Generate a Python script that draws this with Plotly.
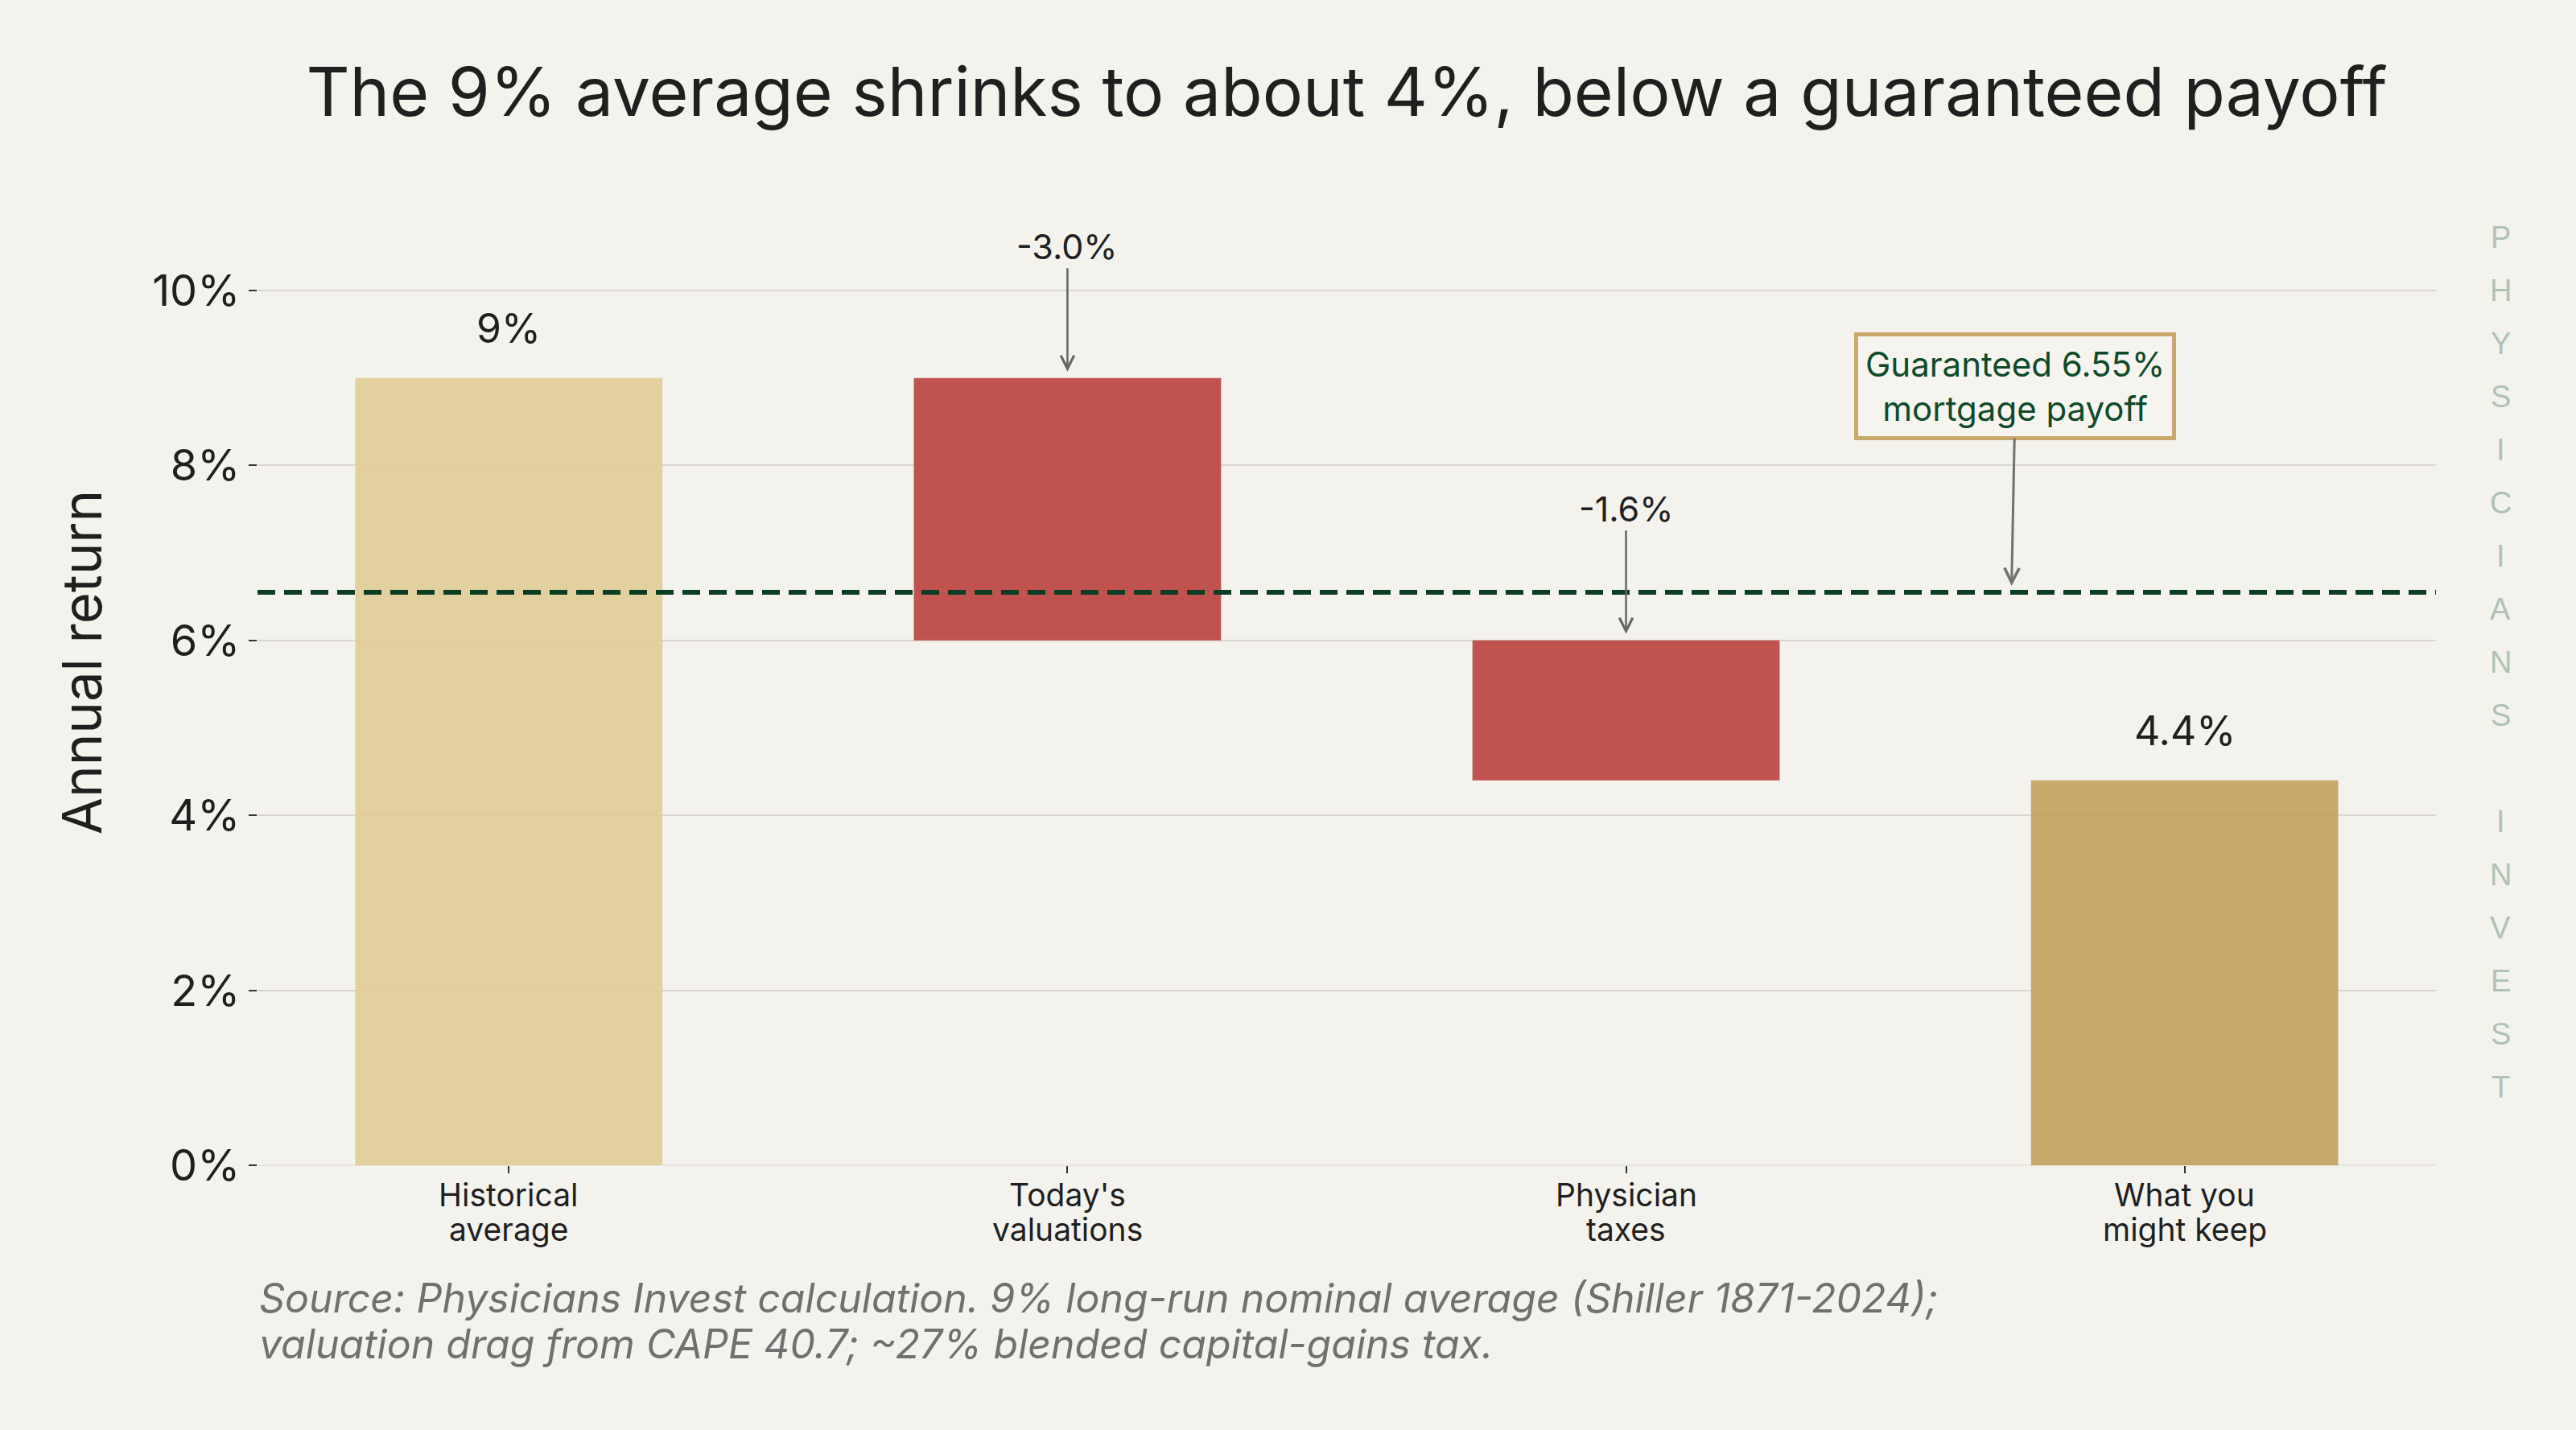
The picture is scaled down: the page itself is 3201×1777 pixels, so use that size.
import plotly.graph_objects as go

# data
categories = ["Historical average", "Today's valuations", "Physician taxes", "What you might keep"]
category_lines = [["Historical", "average"], ["Today's", "valuations"], ["Physician", "taxes"], ["What you", "might keep"]]
historical_avg = 9.0
drags = [-3.0, -1.6]
kept = 4.4
mortgage_rate = 6.55
y_ticks = [0, 2, 4, 6, 8, 10]
y_tick_text = [f"{v}%" for v in y_ticks]
source_lines = [
    "Source: Physicians Invest calculation. 9% long-run nominal average (Shiller 1871-2024);",
    "valuation drag from CAPE 40.7; ~27% blended capital-gains tax.",
]

# bar fills (drawn at 90% opacity so gridlines show through, like the original)
bar_colors = ["rgba(225,204,150,0.9)", "rgba(186,65,61,0.9)", "rgba(186,65,61,0.9)", "rgba(195,160,93,0.9)"]
bg = "#f4f2ed"
font_main = "Inter"

# plot area in pixels, used to place text rows below the axis
plot_top, plot_bottom = 198, 1448
def px_to_paper(py):
    return (plot_bottom - py) / (plot_bottom - plot_top)

# waterfall pieces built from the steps above
heights = [historical_avg] + [abs(d) for d in drags] + [kept]
bases = [0]
level = historical_avg
for d in drags:
    level += d
    bases.append(level)
bases.append(0)

fig = go.Figure()
fig.add_trace(go.Bar(
    x=list(range(len(categories))),
    y=heights,
    base=bases,
    width=0.55,
    marker=dict(color=bar_colors, line=dict(width=0)),
    hoverinfo="skip",
    showlegend=False,
))

# guaranteed payoff line
fig.add_shape(type="line", xref="paper", x0=0, x1=1, y0=mortgage_rate, y1=mortgage_rate,
              line=dict(color="#0b3d22", width=6, dash="22px,11px"))

annotations = []
# totals above first and last bars
annotations.append(dict(x=0, y=historical_avg, text=f"{historical_avg:g}%", showarrow=False,
                        yanchor="bottom", yshift=30, font=dict(size=50, color="#1f1f1f", family=font_main)))
annotations.append(dict(x=3, y=kept, text=f"{kept:.1f}%", showarrow=False,
                        yanchor="bottom", yshift=30, font=dict(size=50, color="#1f1f1f", family=font_main)))
# drag labels with arrows
level = historical_avg
for i, d in enumerate(drags):
    annotations.append(dict(x=i + 1, y=level, text=f"{d:.1f}%", showarrow=True,
                            ax=0, ay=-164, arrowhead=5, arrowsize=1.3, arrowwidth=2.5,
                            arrowcolor="#666666", standoff=8,
                            font=dict(size=43, color="#1f1f1f", family=font_main)))
    level += d

# mortgage callout
annotations.append(dict(x=2.69, y=mortgage_rate, text=f"Guaranteed {mortgage_rate}%<br>mortgage payoff",
                        showarrow=True, ax=5, ay=-256, arrowhead=5, arrowsize=1.2, arrowwidth=3,
                        arrowcolor="#707070", standoff=8,
                        bgcolor="#f6f4ef", bordercolor="#c9a86c", borderwidth=5, borderpad=9,
                        font=dict(size=42, color="#0e4a2a", family=font_main)))

# category labels, two tight lines each
for i, lines in enumerate(category_lines):
    for k, line in enumerate(lines):
        annotations.append(dict(x=i, yref="paper", y=px_to_paper(1484 + 43 * k), text=line,
                                showarrow=False, xanchor="center", yanchor="middle",
                                font=dict(size=39, color="#1f1f1f", family=font_main)))

# source note
for k, line in enumerate(source_lines):
    annotations.append(dict(xref="paper", yref="paper", x=0, y=px_to_paper(1613 + 57 * k),
                            xanchor="left", yanchor="middle", showarrow=False, text=line,
                            font=dict(size=50, color="#707070", family=font_main, style="italic")))

# vertical watermark
brand = "PHYSICIANS INVEST"
for k, ch in enumerate(brand):
    if ch == " ":
        continue
    annotations.append(dict(xref="paper", yref="paper", x=1.0296, y=px_to_paper(295 + 66 * k),
                            text=ch, showarrow=False, xanchor="center", yanchor="middle",
                            font=dict(size=38, color="#b0c2b5", family="Liberation Sans")))

fig.update_layout(
    width=3201, height=1777,
    paper_bgcolor=bg, plot_bgcolor=bg,
    margin=dict(l=320, r=174, t=plot_top, b=1777 - plot_bottom),
    title=dict(text="The 9% average shrinks to about 4%, below a guaranteed payoff",
               x=0.5, xref="paper", xanchor="center", y=1 - 115 / 1777, yanchor="middle",
               font=dict(size=84, color="#1f1f1f", family=font_main)),
    annotations=annotations,
    font=dict(family=font_main, color="#1f1f1f"),
)
fig.update_xaxes(
    range=[-0.45, 3.45],
    tickvals=list(range(len(categories))), ticktext=[""] * len(categories),
    ticks="outside", ticklen=9, tickwidth=2, tickcolor="#333333",
    showgrid=False, showline=False, zeroline=False,
)
fig.update_yaxes(
    range=[0, 11.5],
    tickvals=y_ticks, ticktext=y_tick_text,
    ticks="outside", ticklen=10, tickwidth=2, tickcolor="#333333",
    tickfont=dict(size=54, color="#1f1f1f"),
    showgrid=True, gridcolor="#d9d6d0", gridwidth=2,
    zeroline=True, zerolinecolor="#e8e5df", zerolinewidth=2,
    title=dict(text="Annual return", font=dict(size=67, color="#1f1f1f"), standoff=40),
)

fig.write_html("out.html", config={"displayModeBar": False},
               post_script="document.body.style.margin='0';")
